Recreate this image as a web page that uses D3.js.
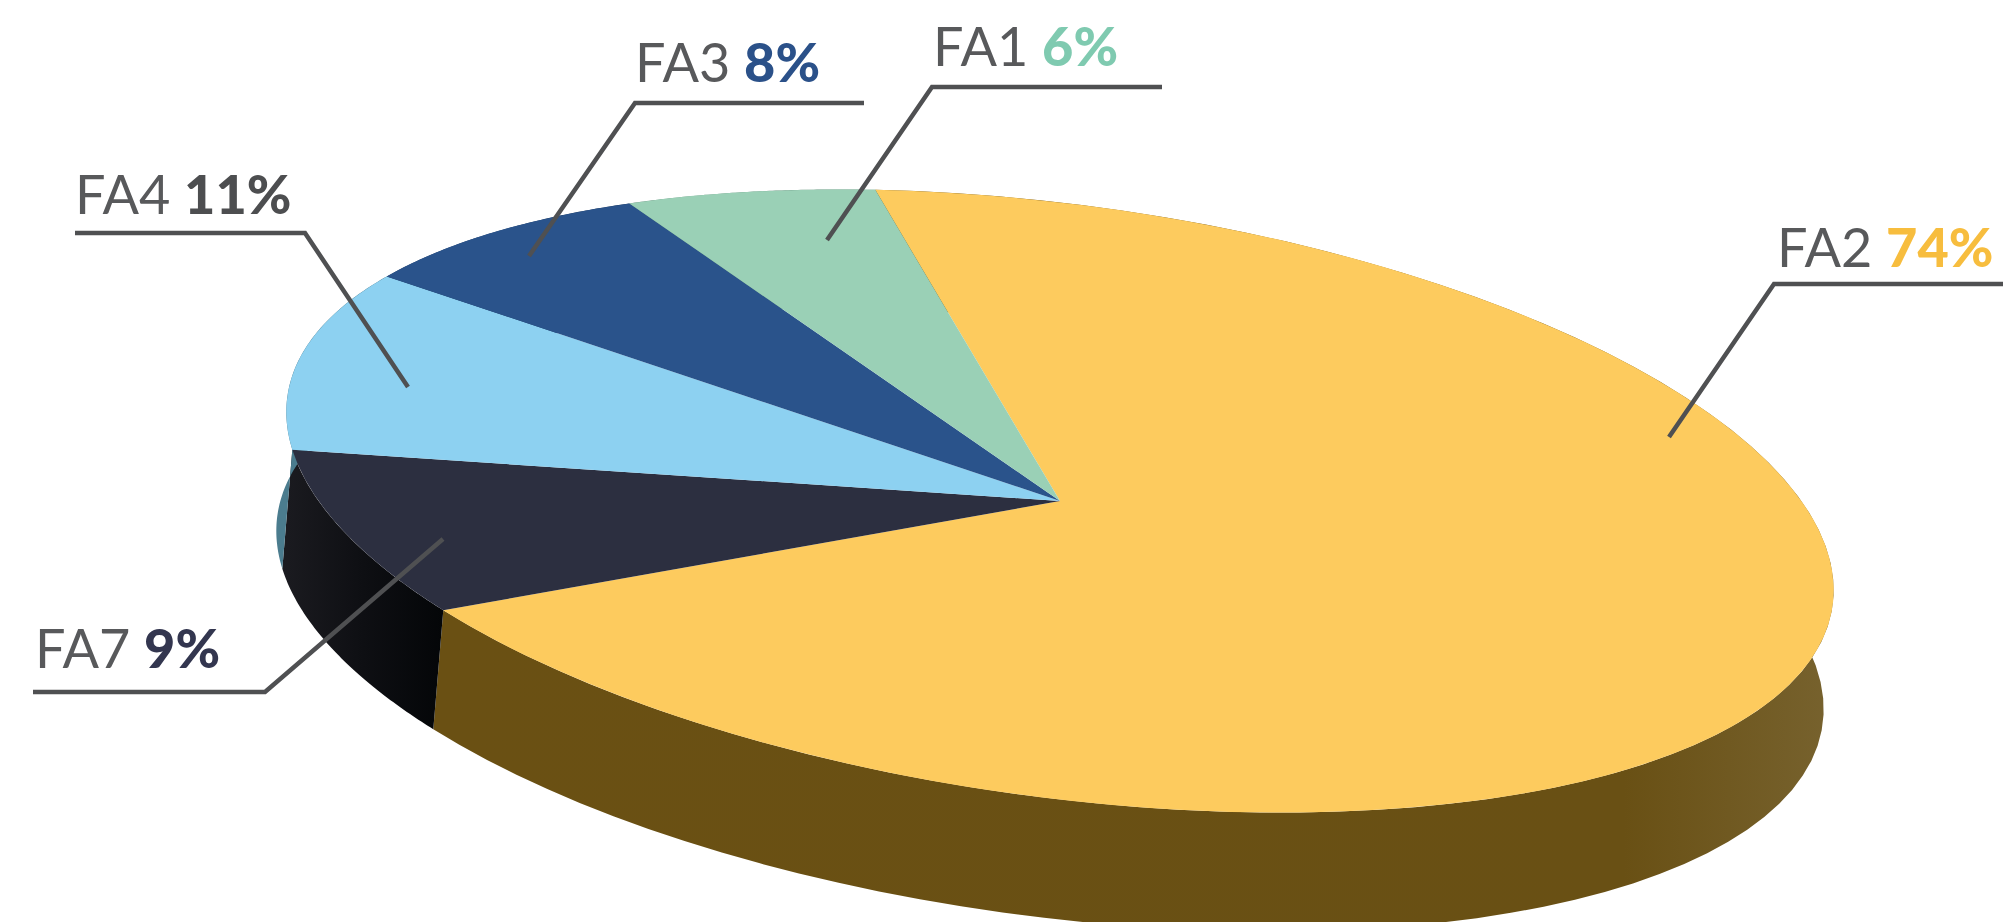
<!DOCTYPE html>
<html>
<head>
<meta charset="utf-8">
<script src="https://cdn.jsdelivr.net/npm/d3@7"></script>
<style>
html, body { margin: 0; padding: 0; background: #fff; overflow: hidden; }
text { font-family: Lato, "Open Sans", sans-serif; font-size: 54px; fill: #58595b; }
</style>
</head>
<body>
<div id="chart"></div>
<script>
// values as labelled, clockwise from the top of the FA2 slice
const categories = ['FA2', 'FA7', 'FA4', 'FA3', 'FA1'];
const values = [74, 9, 11, 8, 6];

const topColors = ['#fdcb5e', '#2c2f40', '#8dd1f1', '#2a538b', '#9ad0b6'];
const wallColors = ['url(#wall-fa2)', 'url(#wall-fa7)', '#4b7c8e', '#1d3a60', '#6c9280'];
const pctColors = ['#f7bd3e', '#33364f', '#4d4e50', '#2b5189', '#7fcab0'];

// label anchor and leader line: text x/baseline, then bar end, elbow, tip
const leaders = [
  { x: 1777, y: 267, pts: [[2003, 284], [1774, 284], [1669, 437]] },
  { x: 35, y: 668, pts: [[33, 692], [265, 692], [443, 539]] },
  { x: 75, y: 214, pts: [[75, 233], [305, 233], [408, 387]] },
  { x: 635, y: 82, pts: [[864, 103], [635, 103], [529, 256]] },
  { x: 933, y: 66, pts: [[1162, 87], [932, 87], [827, 240]] }
];

const width = 2003;
const height = 922;

// how the flat pie is laid onto the page (tilted, squashed disc)
const cx = 1060;
const cy = 501;
const radius = 700;
const axisX = [772, 108.6];
const axisY = [-51.1, 292];
const wallDx = -10;
const wallDy = 119;
const startDeg = -17.6;

const svg = d3.select('#chart')
  .append('svg')
  .attr('width', width)
  .attr('height', height);

const defs = svg.append('defs');

const grad = (id, stops) => {
  const g = defs.append('linearGradient').attr('id', id);
  stops.forEach(s => g.append('stop').attr('offset', s[0]).attr('stop-color', s[1]));
};

grad('wall-fa2', [[0, '#6a5013'], [0.85, '#695014'], [1, '#77622e']]);
grad('wall-fa7', [[0, '#1b1b20'], [0.5, '#0e0f13'], [1, '#040608']]);

defs.append('clipPath')
  .attr('id', 'disc-clip')
  .append('rect')
  .attr('x', 275)
  .attr('y', 0)
  .attr('width', 1562)
  .attr('height', height);

const pie = d3.pie()
  .sort(null)
  .startAngle(startDeg * Math.PI / 180)
  .endAngle(startDeg * Math.PI / 180 + 2 * Math.PI);

const slices = pie(values);

const arc = d3.arc()
  .innerRadius(0)
  .outerRadius(radius);

// pie angle to page position on the rim of the disc
const rim = (a, dx, dy) => {
  const u = Math.sin(a);
  const v = -Math.cos(a);
  return [
    cx + axisX[0] * u + axisY[0] * v + dx,
    cy + axisX[1] * u + axisY[1] * v + dy
  ];
};

const line = d3.line();

const wallPath = d => {
  const n = 80;
  const angles = d3.range(n + 1).map(i => d.startAngle + (d.endAngle - d.startAngle) * i / n);
  const upper = angles.map(a => rim(a, 0, 0));
  const lower = angles.slice().reverse().map(a => rim(a, wallDx, wallDy));
  return line(upper.concat(lower)) + 'Z';
};

const disc = svg.append('g').attr('clip-path', 'url(#disc-clip)');

disc.append('g')
  .selectAll('path')
  .data(slices)
  .enter()
  .append('path')
  .attr('d', wallPath)
  .attr('fill', (d, i) => wallColors[i]);

const m = [axisX[0], axisX[1], axisY[0], axisY[1]].map(k => k / radius);

disc.append('g')
  .attr('transform', `matrix(${m.join(',')},${cx},${cy})`)
  .selectAll('path')
  .data(slices)
  .enter()
  .append('path')
  .attr('d', arc)
  .attr('fill', (d, i) => topColors[i]);

const labels = svg.append('g');

labels.selectAll('path')
  .data(leaders)
  .enter()
  .append('path')
  .attr('d', d => line(d.pts))
  .attr('fill', 'none')
  .attr('stroke', '#4f5052')
  .attr('stroke-width', 4.5)
  .attr('stroke-linejoin', 'miter');

const texts = labels.selectAll('text')
  .data(leaders)
  .enter()
  .append('text')
  .attr('x', d => d.x)
  .attr('y', d => d.y);

texts.append('tspan')
  .text((d, i) => categories[i] + ' ');

texts.append('tspan')
  .attr('font-weight', 900)
  .style('fill', (d, i) => pctColors[i])
  .text((d, i) => values[i] + '%');
</script>
</body>
</html>
